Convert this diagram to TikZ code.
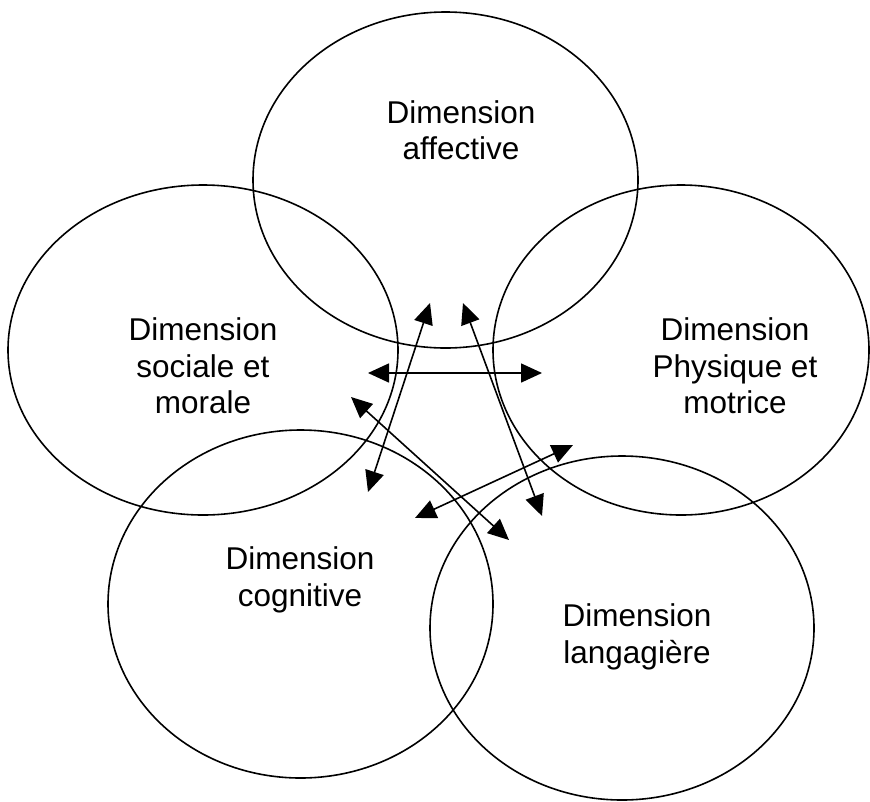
\documentclass[tikz,border=0pt]{standalone}
\usepackage{fontspec}
\setmainfont{Liberation Sans}
\usetikzlibrary{shapes.geometric,arrows.meta}
\tikzset{
  dim/.style={draw=black, line width=1.6pt, ellipse, inner sep=0pt},
  lbl/.style={align=center, font=\fontsize{31.5}{36.5}\selectfont},
  dbl/.style={line width=1.6pt, {Triangle[length=21pt,width=19pt]}-{Triangle[length=21pt,width=19pt]}}
}
\begin{document}
\begin{tikzpicture}[x=1pt,y=-1pt]
\useasboundingbox (0,0) rectangle (870,801);
\node[dim, minimum width=385pt, minimum height=336pt] (aff) at (445.5,180) {};
\node[dim, minimum width=390pt, minimum height=330pt] (soc) at (203,350) {};
\node[dim, minimum width=376pt, minimum height=330pt] (phy) at (681,350) {};
\node[dim, minimum width=385pt, minimum height=348pt] (cog) at (300.5,604) {};
\node[dim, minimum width=384pt, minimum height=344pt] (lan) at (622,628) {};
\node[lbl] (taff) at (461,130) {Dimension\\affective};
\node[lbl] (tsoc) at (203,366) {Dimension\\sociale et\\morale};
\node[lbl] (tphy) at (735,366) {Dimension\\Physique et\\motrice};
\node[lbl] (tcog) at (300,580) {Dimension\\cognitive};
\node[lbl] (tlan) at (637,637) {Dimension\\langagière};
\coordinate (h1) at (368,373);
\coordinate (h2) at (542,373);
\coordinate (a1) at (430,303);
\coordinate (a2) at (368,492);
\coordinate (b1) at (463,303);
\coordinate (b2) at (542,516);
\coordinate (d1) at (351,397);
\coordinate (d2) at (509,540);
\coordinate (e1) at (573,445);
\coordinate (e2) at (415,518);
\draw[dbl] (h1) -- (h2);
\draw[dbl] (a1) -- (a2);
\draw[dbl] (b1) -- (b2);
\draw[dbl] (d1) -- (d2);
\draw[dbl] (e1) -- (e2);
\end{tikzpicture}
\end{document}
